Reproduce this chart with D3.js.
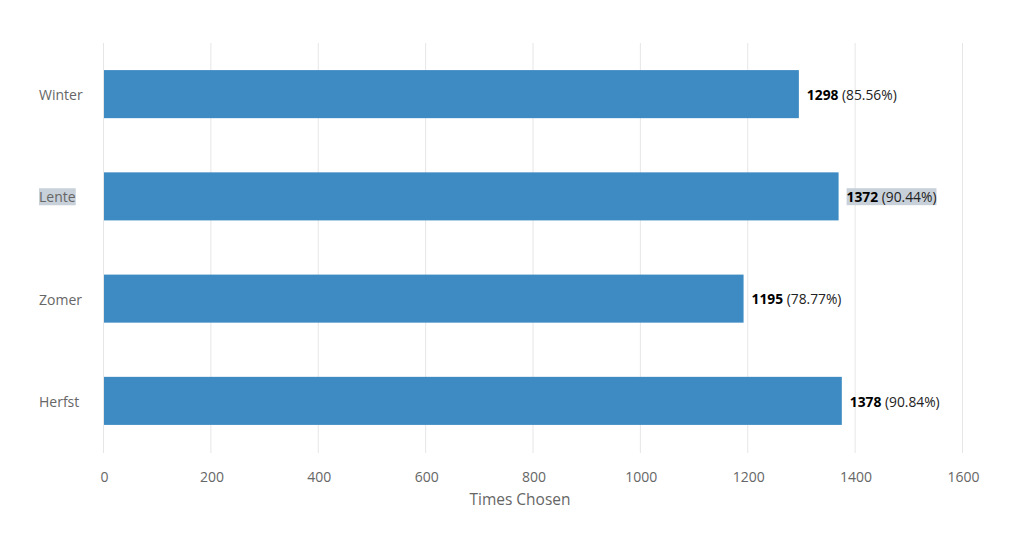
<!DOCTYPE html>
<html>
<head>
<meta charset="utf-8">
<script src="https://cdn.jsdelivr.net/npm/d3@7"></script>
<style>
  body { margin: 0; background: #fff; }
  svg text { font-family: "Open Sans", sans-serif; }
</style>
</head>
<body>
<script>
const w = 1024;
const h = 543;

// data
const seasons = ["Winter", "Lente", "Zomer", "Herfst"];
const timesChosen = [1298, 1372, 1195, 1378];
const percents = ["85.56%", "90.44%", "78.77%", "90.84%"];
const xTicks = [0, 200, 400, 600, 800, 1000, 1200, 1400, 1600];
const selected = "Lente"; // row that shows as text-selected in the picture

const margin = { left: 104, right: 61, top: 43, bottom: 91 };

let svg = d3.select("body")
    .append("svg")
    .attr("width", w)
    .attr("height", h);

let x = d3.scaleLinear()
    .domain([0, 1600])
    .range([margin.left, w - margin.right]);

let y = d3.scaleBand()
    .domain(seasons)
    .range([margin.top, h - margin.bottom])
    .paddingInner(0.53)
    .paddingOuter(0.265);

// vertical grid
svg.append("g")
    .selectAll("line")
    .data(xTicks)
    .enter()
    .append("line")
    .attr("x1", d => x(d) - 0.5)
    .attr("x2", d => x(d) - 0.5)
    .attr("y1", margin.top)
    .attr("y2", h - margin.bottom + 1)
    .style("stroke", "#e6e6e6")
    .style("stroke-width", 1);

// x axis labels
let xAxis = svg.append("g")
    .attr("transform", "translate(0," + (h - margin.bottom) + ")")
    .call(d3.axisBottom(x).tickValues(xTicks).tickSize(0).tickPadding(20).tickFormat(d3.format("d")));
xAxis.select(".domain").remove();
xAxis.selectAll("text")
    .style("font-size", "14px")
    .style("fill", "#666")
    .style("font-family", "'Open Sans', sans-serif");

svg.append("text")
    .attr("x", 520)
    .attr("y", 505)
    .attr("text-anchor", "middle")
    .style("font-size", "15.5px")
    .style("fill", "#666")
    .text("Times Chosen");

// bars
svg.append("g")
    .selectAll("rect")
    .data(seasons)
    .enter()
    .append("rect")
    .attr("x", x(0))
    .attr("y", d => y(d))
    .attr("width", (d, i) => x(timesChosen[i]) - x(0) - 2)
    .attr("height", y.bandwidth())
    .style("fill", "#3d8bc2");

// category labels, left aligned
let cats = svg.append("g")
    .selectAll("g")
    .data(seasons)
    .enter()
    .append("g");

cats.append("text")
    .attr("x", 39)
    .attr("y", d => y(d) + y.bandwidth() / 2 + 1)
    .attr("dy", "0.35em")
    .style("font-size", "14px")
    .style("fill", "#666")
    .text(d => d);

// value labels
let vals = svg.append("g")
    .selectAll("text")
    .data(seasons)
    .enter()
    .append("text")
    .attr("x", (d, i) => x(timesChosen[i]) + 6)
    .attr("y", d => y(d) + y.bandwidth() / 2 + 1)
    .attr("dy", "0.35em")
    .style("font-size", "13.8px")
    .style("fill", "#000");
vals.append("tspan")
    .style("font-weight", "bold")
    .text((d, i) => timesChosen[i]);
vals.append("tspan")
    .style("fill", "#222")
    .text((d, i) => " (" + percents[i] + ")");

// fake the selection highlight behind the selected row's texts
cats.filter(d => d === selected).each(function() {
    let t = d3.select(this).select("text");
    let b = t.node().getBBox();
    d3.select(this).insert("rect", "text")
        .attr("x", b.x).attr("y", b.y + 1)
        .attr("width", b.width).attr("height", b.height - 2)
        .style("fill", "#c8d1da");
});
vals.filter(d => d === selected).each(function() {
    let b = this.getBBox();
    d3.select(this.parentNode).insert("rect", () => this)
        .attr("x", b.x).attr("y", b.y + 1)
        .attr("width", b.width).attr("height", b.height - 2)
        .style("fill", "#c8d1da");
});
</script>
</body>
</html>
